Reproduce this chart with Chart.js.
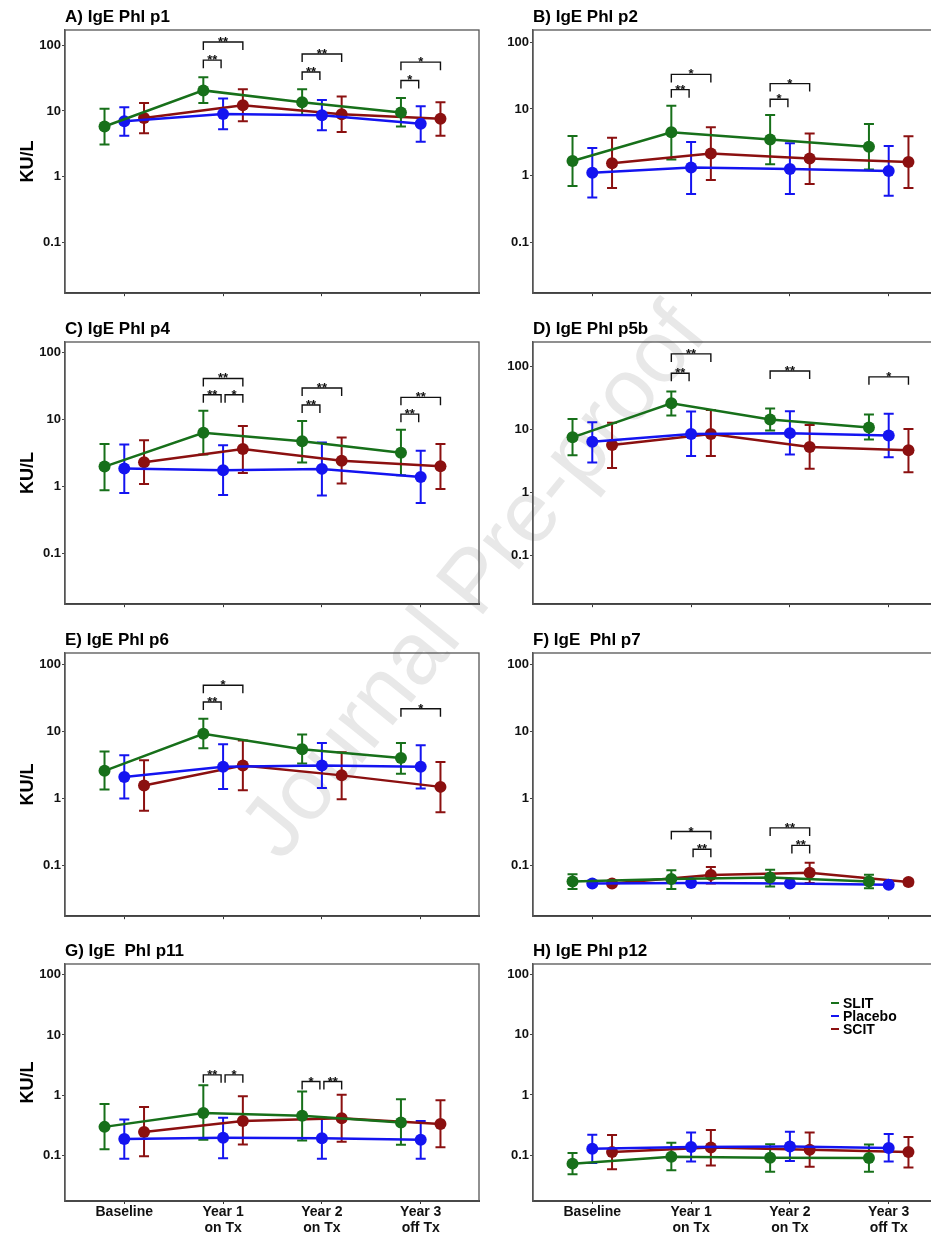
<!DOCTYPE html>
<html>
<head>
<meta charset="utf-8">
<script src="https://cdn.jsdelivr.net/npm/chart.js@4.4.0/dist/chart.umd.min.js"></script>
<style>
  html, body { margin: 0; padding: 0; background: #fff; }
  body { width: 931px; height: 1236px; position: relative; overflow: hidden; }
  canvas { position: absolute; }
  #wm { position: absolute; left: 472px; top: 580px; transform: translate(-50%, -50%) rotate(-51deg);
        font: 88px "Liberation Sans", Arial, sans-serif; color: #e8e8e8; white-space: nowrap; }
</style>
</head>
<body>
<div id="wm">Journal Pre-proof</div>

<script>
// categories and groups
const categories = [['Baseline'], ['Year 1', 'on Tx'], ['Year 2', 'on Tx'], ['Year 3', 'off Tx']];
const seriesNames = ['SLIT', 'Placebo', 'SCIT'];
const yTicks = [0.1, 1, 10, 100];

// each panel: rows = SLIT, Placebo, SCIT; columns = categories
// A) IgE Phl p1
const p1Mean = [[5.8, 20.5, 13.5, 9.5], [7.0, 9.0, 8.6, 6.4], [7.8, 12.2, 8.9, 7.6]];
const p1Low = [[3.1, 13.2, 8.7, 5.8], [4.2, 5.3, 5.1, 3.4], [4.6, 7.0, 4.8, 4.2]];
const p1High = [[10.8, 32.4, 21.3, 15.7], [11.4, 15.4, 14.7, 11.8], [13.2, 21.3, 16.5, 13.5]];
const p1Sig = [[1, 0, 1, 59, '**'], [1, 0, 2, 111, '**'], [2, 0, 1, 39, '**'], [2, 0, 2, 73, '**'], [3, 0, 1, 29, '*'], [3, 0, 2, 55, '*']];

// B) IgE Phl p2
const p2Mean = [[1.66, 4.47, 3.47, 2.7], [1.10, 1.32, 1.26, 1.17], [1.53, 2.14, 1.8, 1.6]];
const p2Low = [[0.70, 1.74, 1.48, 1.23], [0.47, 0.53, 0.53, 0.50], [0.65, 0.86, 0.75, 0.65]];
const p2High = [[3.94, 11.2, 8.1, 5.95], [2.6, 3.2, 3.05, 2.78], [3.7, 5.3, 4.3, 3.9]];
const p2Sig = [[1, 0, 1, 19.5, '**'], [1, 0, 2, 33, '*'], [2, 0, 1, 14, '*'], [2, 0, 2, 24, '*']];

// C) IgE Phl p4
const p4Mean = [[1.97, 6.3, 4.7, 3.16], [1.84, 1.74, 1.82, 1.38], [2.28, 3.6, 2.4, 2.0]];
const p4Low = [[0.87, 2.98, 2.27, 1.46], [0.79, 0.74, 0.73, 0.56], [1.08, 1.58, 1.1, 0.91]];
const p4High = [[4.3, 13.5, 9.5, 7.0], [4.2, 4.1, 4.5, 3.4], [4.9, 7.95, 5.35, 4.3]];
const p4Sig = [[1, 0, 1, 23.4, '**'], [1, 1, 2, 23.4, '*'], [1, 0, 2, 41, '**'], [2, 0, 1, 16.4, '**'], [2, 0, 2, 29.5, '**'], [3, 0, 1, 12, '**'], [3, 0, 2, 21.4, '**']];

// D) IgE Phl p5b
const p5Mean = [[7.5, 26, 14.4, 10.7], [6.4, 8.5, 8.75, 8.0], [5.7, 8.5, 5.3, 4.7]];
const p5Low = [[3.9, 16.6, 9.6, 6.95], [3.0, 3.8, 4.0, 3.65], [2.45, 3.8, 2.4, 2.1]];
const p5High = [[14.6, 39.8, 21.5, 17.2], [13.0, 19.2, 19.5, 17.7], [12.8, 20.4, 11.8, 10.2]];
const p5Sig = [[1, 0, 1, 77.6, '**'], [1, 0, 2, 157, '**'], [2, 0, 2, 84, '**'], [3, 0, 2, 68, '*']];

// E) IgE Phl p6
const p6Mean = [[2.57, 9.2, 5.4, 3.99], [2.08, 2.96, 3.1, 2.96], [1.55, 3.1, 2.2, 1.48]];
const p6Low = [[1.35, 5.6, 3.3, 2.33], [0.99, 1.38, 1.43, 1.4], [0.65, 1.32, 0.97, 0.62]];
const p6High = [[5.0, 15.5, 9.0, 6.7], [4.4, 6.4, 6.7, 6.2], [3.7, 7.3, 4.9, 3.5]];
const p6Sig = [[1, 0, 1, 27.5, '**'], [1, 0, 2, 49, '*'], [3, 0, 2, 21.8, '*']];

// F) IgE Phl p7
const p7Mean = [[0.057, 0.062, 0.065, 0.057], [0.053, 0.054, 0.053, 0.051], [0.053, 0.071, 0.077, 0.056]];
const p7Low = [[0.044, 0.044, 0.048, 0.045], [0.050, 0.051, 0.050, 0.048], [0.050, 0.053, 0.054, 0.051]];
const p7High = [[0.073, 0.084, 0.085, 0.072], [0.056, 0.057, 0.056, 0.054], [0.057, 0.094, 0.108, 0.061]];
const p7Sig = [[1, 0, 2, 0.318, '*'], [1, 1, 2, 0.173, '**'], [2, 0, 2, 0.36, '**'], [2, 1, 2, 0.197, '**']];

// G) IgE Phl p11
const p11Mean = [[0.295, 0.50, 0.45, 0.35], [0.186, 0.195, 0.19, 0.18], [0.243, 0.37, 0.41, 0.33]];
const p11Low = [[0.125, 0.18, 0.175, 0.148], [0.087, 0.089, 0.087, 0.087], [0.096, 0.15, 0.167, 0.135]];
const p11High = [[0.71, 1.45, 1.15, 0.85], [0.39, 0.42, 0.42, 0.37], [0.63, 0.95, 1.01, 0.82]];
const p11Sig = [[1, 0, 1, 2.17, '**'], [1, 1, 2, 2.17, '*'], [2, 0, 1, 1.68, '*'], [2, 1, 2, 1.68, '**']];

// H) IgE Phl p12
const p12Mean = [[0.072, 0.094, 0.09, 0.089], [0.127, 0.136, 0.139, 0.131], [0.112, 0.133, 0.123, 0.112]];
const p12Low = [[0.048, 0.056, 0.053, 0.053], [0.074, 0.078, 0.08, 0.078], [0.058, 0.067, 0.064, 0.062]];
const p12High = [[0.108, 0.160, 0.152, 0.15], [0.218, 0.238, 0.245, 0.224], [0.215, 0.26, 0.238, 0.2]];
const p12Sig = [];

const colors = ['#17701a', '#1414f0', '#8b1010'];
const dodge = [-0.2, 0, 0.2];
const FONT = '"Liberation Sans", Arial, sans-serif';

const panels = [
  { title: 'A) IgE Phl p1', mean: p1Mean, lo: p1Low, hi: p1High, sig: p1Sig, yMax: 169, col: 0, row: 0 },
  { title: 'B) IgE Phl p2', mean: p2Mean, lo: p2Low, hi: p2High, sig: p2Sig, yMax: 153, col: 1, row: 0 },
  { title: 'C) IgE Phl p4', mean: p4Mean, lo: p4Low, hi: p4High, sig: p4Sig, yMax: 144, col: 0, row: 1 },
  { title: 'D) IgE Phl p5b', mean: p5Mean, lo: p5Low, hi: p5High, sig: p5Sig, yMax: 242, col: 1, row: 1 },
  { title: 'E) IgE Phl p6', mean: p6Mean, lo: p6Low, hi: p6High, sig: p6Sig, yMax: 149, col: 0, row: 2 },
  { title: 'F) IgE  Phl p7', mean: p7Mean, lo: p7Low, hi: p7High, sig: p7Sig, yMax: 149, col: 1, row: 2 },
  { title: 'G) IgE  Phl p11', mean: p11Mean, lo: p11Low, hi: p11High, sig: p11Sig, yMax: 152, col: 0, row: 3 },
  { title: 'H) IgE Phl p12', mean: p12Mean, lo: p12Low, hi: p12High, sig: p12Sig, yMax: 151, col: 1, row: 3, legend: true }
];

// frame top / bottom of each row
const rowFrames = [[30, 294], [342, 605], [653, 917], [964, 1201]];

function decor(p) {
  return {
    id: 'decor',
    beforeDatasetsDraw(chart) {
      const { ctx, scales: { x, y } } = chart;
      ctx.save();
      ctx.lineWidth = 2;
      p.lo.forEach((arr, g) => {
        ctx.strokeStyle = colors[g];
        arr.forEach((lo, i) => {
          const px = x.getPixelForValue(i + 1 + dodge[g]);
          const y1 = y.getPixelForValue(lo), y2 = y.getPixelForValue(p.hi[g][i]);
          ctx.beginPath();
          ctx.moveTo(px, y1); ctx.lineTo(px, y2);
          ctx.moveTo(px - 5, y1); ctx.lineTo(px + 5, y1);
          ctx.moveTo(px - 5, y2); ctx.lineTo(px + 5, y2);
          ctx.stroke();
        });
      });
      ctx.restore();
    },
    afterDatasetsDraw(chart) {
      const { ctx, chartArea: a, scales: { x, y } } = chart;
      ctx.save();
      // frame
      ctx.strokeStyle = '#555';
      ctx.lineWidth = 1.3;
      ctx.strokeRect(a.left, a.top, a.right - a.left, a.bottom - a.top);
      // significance brackets
      ctx.strokeStyle = '#111';
      ctx.fillStyle = '#111';
      ctx.lineWidth = 1.4;
      ctx.font = 'bold 13px ' + FONT;
      ctx.textAlign = 'center';
      ctx.textBaseline = 'alphabetic';
      p.sig.forEach(([c, g1, g2, v, label]) => {
        let x1 = x.getPixelForValue(c + 1 + dodge[g1]);
        let x2 = x.getPixelForValue(c + 1 + dodge[g2]);
        if (g1 === 1) x1 += 2;
        if (g2 === 1) x2 -= 2;
        const py = y.getPixelForValue(v);
        ctx.beginPath();
        ctx.moveTo(x1, py + 8); ctx.lineTo(x1, py); ctx.lineTo(x2, py); ctx.lineTo(x2, py + 8);
        ctx.stroke();
        ctx.fillText(label, (x1 + x2) / 2, py + 4);
      });
      // panel title
      ctx.font = 'bold 17px ' + FONT;
      ctx.textAlign = 'left';
      ctx.textBaseline = 'middle';
      ctx.fillStyle = '#000';
      ctx.fillText(p.title, a.left, a.top - 13);
      // legend
      if (p.legend) {
        ctx.font = 'bold 14px ' + FONT;
        seriesNames.forEach((name, g) => {
          const ly = a.top + 39 + g * 13;
          ctx.strokeStyle = colors[g];
          ctx.lineWidth = 2;
          ctx.beginPath();
          ctx.moveTo(a.left + 298, ly); ctx.lineTo(a.left + 306, ly);
          ctx.stroke();
          ctx.fillStyle = '#000';
          ctx.fillText(name, a.left + 310, ly + 1);
        });
      }
      ctx.restore();
    }
  };
}

panels.forEach(p => {
  const [top, bottom] = rowFrames[p.row];
  const last = p.row === 3;
  const axisH = last ? 35 : 8;
  const cv = document.createElement('canvas');
  cv.width = 482;
  cv.height = 30 + (bottom - top) + axisH;
  cv.style.left = (p.col === 0 ? 0 : 468) + 'px';
  cv.style.top = (top - 30) + 'px';
  document.body.appendChild(cv);

  const datasets = seriesNames.map((name, g) => ({
    label: name,
    data: p.mean[g].map((v, i) => ({ x: i + 1 + dodge[g], y: v })),
    borderColor: colors[g],
    backgroundColor: colors[g],
    borderWidth: 2.5,
    pointRadius: 6,
    pointBorderWidth: 0,
    pointBackgroundColor: colors[g],
    tension: 0
  }));

  new Chart(cv, {
    type: 'line',
    data: { datasets },
    options: {
      responsive: false,
      animation: false,
      devicePixelRatio: 1,
      layout: { autoPadding: false, padding: { top: 30, right: 3, left: 0, bottom: 0 } },
      plugins: { legend: { display: false }, tooltip: { enabled: false } },
      scales: {
        x: {
          type: 'linear',
          min: 0.4,
          max: 4.59,
          afterBuildTicks: s => { s.ticks = [1, 2, 3, 4].map(v => ({ value: v })); },
          afterFit: s => { s.height = axisH; },
          grid: { display: true, drawOnChartArea: false, drawTicks: true, tickLength: 3, color: '#333' },
          border: { display: true, color: '#333', width: 2 },
          ticks: {
            display: last,
            padding: 1,
            color: '#111',
            maxRotation: 0,
            autoSkip: false,
            font: { family: FONT, size: 14, weight: 'bold', lineHeight: 1.08 },
            callback: v => categories[v - 1] || ''
          }
        },
        y: {
          type: 'logarithmic',
          min: 0.0172,
          max: p.yMax,
          afterBuildTicks: s => { s.ticks = yTicks.map(v => ({ value: v })); },
          afterFit: s => { s.width = 65; },
          grid: { display: true, drawOnChartArea: false, drawTicks: true, tickLength: 3, color: '#444' },
          border: { display: true, color: '#555', width: 1.3 },
          ticks: {
            padding: 1,
            color: '#111',
            font: { family: FONT, size: 13, weight: 'bold' },
            callback: v => String(v)
          },
          title: {
            display: p.col === 0,
            text: 'KU/L',
            color: '#000',
            font: { family: FONT, size: 18, weight: 'bold' },
            padding: { top: 17, bottom: 0 }
          }
        }
      }
    },
    plugins: [decor(p)]
  });
});
</script>
</body>
</html>
